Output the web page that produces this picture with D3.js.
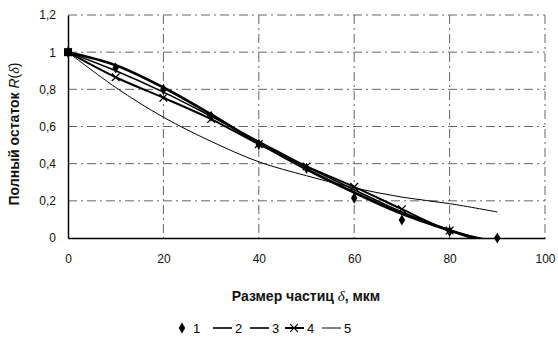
<!DOCTYPE html>
<html>
<head>
<meta charset="utf-8">
<script src="https://cdn.jsdelivr.net/npm/d3@7"></script>
<style>
    body { margin: 0; background: #fff; }
    svg { display: block; font-family: "Liberation Sans", Arial, sans-serif; }
</style>
</head>
<body>
<div id="graph"></div>
<script>
"use strict";
(function() {
    // data
    const xValues = [0, 10, 20, 30, 40, 50, 60, 70, 80, 90];
    const series1 = [1, 0.915, 0.80, 0.655, 0.505, 0.375, 0.215, 0.097, 0.035, 0.0];
    const series2 = [1, 0.93, 0.81, 0.665, 0.51, 0.37, 0.245, 0.13, 0.04, -0.04];
    const series3 = [1, 0.90, 0.785, 0.655, 0.52, 0.385, 0.26, 0.14, 0.045, -0.03];
    const series4 = [1, 0.865, 0.755, 0.64, 0.505, 0.385, 0.275, 0.155, 0.04, -0.02];
    const series5 = [1, 0.81, 0.65, 0.52, 0.41, 0.335, 0.27, 0.22, 0.185, 0.14];
    const xTicks = [0, 20, 40, 60, 80, 100];
    const yTicks = [0, 0.2, 0.4, 0.6, 0.8, 1, 1.2];
    const legendNames = ["1", "2", "3", "4", "5"];

    const svgSize = { width: 558, height: 345 };
    const plot = { left: 68, right: 545, top: 15, bottom: 238 };

    window.addEventListener("load", init);

    function init() {
        let svg = d3.select("#graph")
                    .append("svg")
                        .attr("width", svgSize.width)
                        .attr("height", svgSize.height);

        let x = d3.scaleLinear().domain([0, 100]).range([plot.left, plot.right]);
        let y = d3.scaleLinear().domain([0, 1.2]).range([plot.bottom, plot.top]);
        let fmt = d => String(d).replace(".", ",");

        // grid
        let grid = svg.append("g");
        grid.selectAll("line.h")
            .data(yTicks.filter(d => d > 0))
            .enter().append("line")
                .attr("x1", plot.left).attr("x2", plot.right)
                .attr("y1", d => y(d)).attr("y2", d => y(d))
                .attr("stroke", "#666").attr("stroke-width", 1)
                .attr("stroke-dasharray", "9,4,2,4");
        grid.selectAll("line.v")
            .data(xTicks.filter(d => d > 0))
            .enter().append("line")
                .attr("x1", d => x(d)).attr("x2", d => x(d))
                .attr("y1", plot.top).attr("y2", plot.bottom)
                .attr("stroke", "#666").attr("stroke-width", 1)
                .attr("stroke-dasharray", "9,4,2,4");

        // axes
        let yAxis = svg.append("g")
            .attr("transform", "translate(" + plot.left + ",0)")
            .call(d3.axisLeft(y).tickValues(yTicks).tickFormat(fmt).tickSize(0).tickPadding(12));
        let xAxis = svg.append("g")
            .attr("transform", "translate(0," + plot.bottom + ")")
            .call(d3.axisBottom(x).tickValues(xTicks).tickFormat(fmt).tickSize(0).tickPadding(16));
        [xAxis, yAxis].forEach(a => {
            a.select(".domain").attr("stroke", "#000").attr("stroke-width", 1.5);
            a.selectAll("text").attr("font-size", 12).attr("fill", "#111")
                .attr("font-family", "Liberation Sans, Arial, sans-serif");
        });

        // clip to plot area
        svg.append("clipPath").attr("id", "clip")
            .append("rect")
                .attr("x", plot.left).attr("y", plot.top - 5)
                .attr("width", plot.right - plot.left)
                .attr("height", plot.bottom - plot.top + 5);

        let line = d3.line()
            .x((d, i) => x(xValues[i]))
            .y(d => y(d))
            .curve(d3.curveCatmullRom);

        let lines = [
            { data: series5, width: 1 },
            { data: series3, width: 1.6 },
            { data: series4, width: 2 },
            { data: series2, width: 2.6 },
        ];
        let lg = svg.append("g").attr("clip-path", "url(#clip)");
        lines.forEach(s => {
            lg.append("path")
                .attr("d", line(s.data))
                .attr("fill", "none")
                .attr("stroke", "#000")
                .attr("stroke-width", s.width);
        });

        // x markers (series 4)
        let cross = d3.symbol().type(d3.symbolX).size(40);
        lg.selectAll("path.x4")
            .data(series4.slice(0, 9))
            .enter().append("path")
                .attr("d", cross)
                .attr("transform", (d, i) => "translate(" + x(xValues[i]) + "," + y(d) + ")")
                .attr("stroke", "#000").attr("stroke-width", 1.3).attr("fill", "none");

        // diamond markers (series 1)
        let diamond = d3.symbol().type(d3.symbolDiamond).size(36);
        svg.selectAll("path.d1")
            .data(series1)
            .enter().append("path")
                .attr("d", diamond)
                .attr("transform", (d, i) => "translate(" + x(xValues[i]) + "," + y(d) + ")")
                .attr("fill", "#000");
        svg.append("rect")
            .attr("x", x(0) - 4).attr("y", y(1) - 4)
            .attr("width", 8).attr("height", 8).attr("fill", "#000");

        // axis titles
        let xt = svg.append("text")
            .attr("x", 306).attr("y", 301)
            .attr("text-anchor", "middle")
            .attr("font-size", 14).attr("font-weight", "bold").attr("fill", "#111");
        xt.append("tspan").text("Размер частиц ");
        xt.append("tspan").text("δ").attr("font-style", "italic").attr("font-weight", "normal")
            .attr("font-family", "Liberation Serif, serif").attr("font-size", 15);
        xt.append("tspan").text(", мкм");

        let yt = svg.append("text")
            .attr("transform", "translate(19,134) rotate(-90)")
            .attr("text-anchor", "middle")
            .attr("font-size", 14).attr("font-weight", "bold").attr("fill", "#111");
        yt.append("tspan").text("Полный остаток ");
        yt.append("tspan").text("R").attr("font-style", "italic").attr("font-weight", "normal");
        yt.append("tspan").text("(").attr("font-weight", "normal");
        yt.append("tspan").text("δ").attr("font-style", "italic").attr("font-weight", "normal")
            .attr("font-family", "Liberation Serif, serif");
        yt.append("tspan").text(")").attr("font-weight", "normal");

        // legend
        let leg = svg.append("g").attr("transform", "translate(0,328)");
        let legX = [182, 213, 250, 285, 322];
        legendNames.forEach((name, i) => {
            let gx = legX[i];
            if (i === 0) {
                leg.append("path").attr("d", diamond)
                    .attr("transform", "translate(" + gx + ",0)").attr("fill", "#000");
                leg.append("text").attr("x", gx + 11).attr("y", 4.5)
                    .attr("font-size", 13).text(name);
            } else {
                let w = [0, 1.6, 1.6, 2, 1][i];
                leg.append("line").attr("x1", gx).attr("x2", gx + 19)
                    .attr("y1", 0).attr("y2", 0)
                    .attr("stroke", "#000").attr("stroke-width", w);
                if (i === 3) {
                    leg.append("path").attr("d", cross)
                        .attr("transform", "translate(" + (gx + 9) + ",0)")
                        .attr("stroke", "#000").attr("stroke-width", 1.2).attr("fill", "none");
                }
                leg.append("text").attr("x", gx + 22).attr("y", 4.5)
                    .attr("font-size", 13).text(name);
            }
        });
    }
})();
</script>
</body>
</html>
